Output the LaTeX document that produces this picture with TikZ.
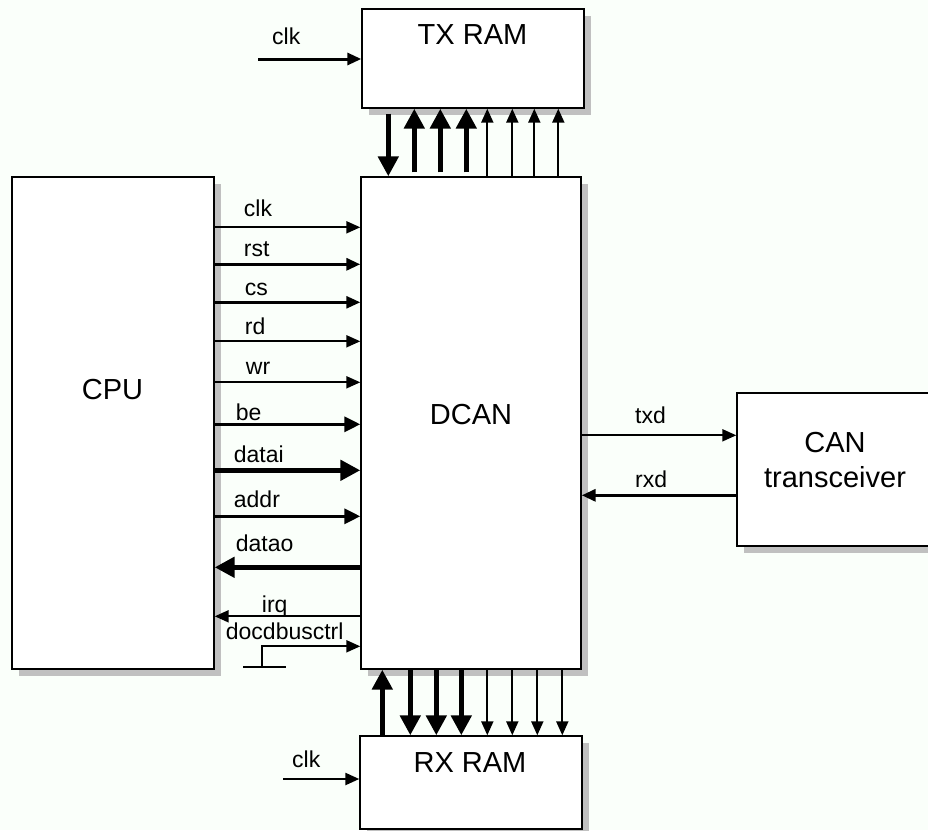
\documentclass[tikz,border=0pt]{standalone}
\usepackage{fontspec}
\setmainfont{Liberation Sans}
\usetikzlibrary{arrows.meta,shadows}
\definecolor{bgcol}{RGB}{250,255,250}
\definecolor{shadecol}{RGB}{192,192,192}

\begin{document}
\begin{tikzpicture}[
  x=1pt, y=-1pt,
  blk/.style={draw,fill=white,line width=1.4pt,inner sep=0pt,
              drop shadow={shadow xshift=7pt,shadow yshift=-7pt,fill=shadecol,opacity=1}},
  txt/.style={font=\fontsize{29}{35}\selectfont,inner sep=0pt,align=center},
  lbl/.style={font=\fontsize{23}{27}\selectfont,inner sep=0pt,anchor=base west},
  sigthin/.style={line width=2pt,-{Triangle[length=14pt,width=12pt]}},
  sigmid/.style={line width=3.2pt,-{Triangle[length=16pt,width=15pt]}},
  sigbus/.style={line width=5.5pt,-{Triangle[length=20pt,width=20pt]}}
]
\clip (0,0) rectangle (928,830);
\fill[bgcol] (0,0) rectangle (928,830);

\node[blk,minimum width=202pt,minimum height=492pt] (cpu)   at (113,423) {};
\node[blk,minimum width=220pt,minimum height=492pt] (dcan)  at (471,423) {};
\node[blk,minimum width=222pt,minimum height=99pt]  (txram) at (473,58.5) {};
\node[blk,minimum width=222pt,minimum height=93pt]  (rxram) at (471,782.5) {};
\node[blk,minimum width=198pt,minimum height=153pt] (can)   at (836,469.5) {};

\node[txt,anchor=base] (cputxt)  at (112.5,399) {CPU};
\node[txt,anchor=base] (dcantxt) at (471,424)   {DCAN};
\node[txt,anchor=base] (txtxt)   at (472.5,44)  {TX RAM};
\node[txt,anchor=base] (rxtxt)   at (470,772)   {RX RAM};
\node[txt]             (cantxt)  at (835,460)   {CAN\\transceiver};

% CPU -> DCAN
\foreach \d/\lab/\sty/\lw/\lx/\ly in {51/clk/sigthin/2/29/11, 88/rst/sigthin/3.2/29/8,
    126/cs/sigthin/2.6/30/7, 165/rd/sigthin/2/30/7, 206/wr/sigthin/2/31/8,
    248/be/sigmid/3.2/21/4, 294/datai/sigbus/5.5/19/8, 340/addr/sigmid/3.2/19/9}{
  \draw[\sty,line width=\lw pt] ([yshift=-\d pt]cpu.north east) -- ([yshift=-\d pt]dcan.north west);
  \node[lbl] (l-\lab) at ([xshift=\lx pt,yshift={\ly pt-\d pt}]cpu.north east) {\lab};
}

% DCAN -> CPU
\draw[sigbus] ([yshift=-391pt]dcan.north west) -- ([yshift=-391pt]cpu.north east);
\node[lbl] (l-datao) at ([xshift=21pt,yshift=-375pt]cpu.north east) {datao};
\draw[sigthin] ([yshift=-440pt]dcan.north west) -- ([yshift=-440pt]cpu.north east);
\node[lbl] (l-irq) at ([xshift=47pt,yshift=-436pt]cpu.north east) {irq};

\coordinate (gnd) at (262,667);
\draw[sigthin] (gnd) |- ([yshift=-470pt]dcan.north west);
\draw[line width=1.4pt] ([xshift=-19pt]gnd) -- ([xshift=24pt]gnd);
\node[lbl] (l-docdbusctrl) at ([xshift=11pt,yshift=-463pt]cpu.north east) {docdbusctrl};

% TX RAM <-> DCAN
\draw[sigbus,shorten <=5pt] ([xshift=28pt]dcan.north west |- txram.south) -- ([xshift=28pt]dcan.north west);
\foreach \x in {54,80,106}
  \draw[sigbus,shorten <=4pt] ([xshift=\x pt]dcan.north west) -- ([xshift=\x pt]dcan.north west |- txram.south);
\foreach \x in {127,152,174,198}
  \draw[sigthin] ([xshift=\x pt]dcan.north west) -- ([xshift=\x pt]dcan.north west |- txram.south);

% DCAN <-> RX RAM
\draw[sigbus] ([xshift=22pt]dcan.south west |- rxram.north) -- ([xshift=22pt]dcan.south west);
\foreach \x in {50,76,101}
  \draw[sigbus] ([xshift=\x pt]dcan.south west) -- ([xshift=\x pt]dcan.south west |- rxram.north);
\foreach \x in {127,152,177,202}
  \draw[sigthin] ([xshift=\x pt]dcan.south west) -- ([xshift=\x pt]dcan.south west |- rxram.north);

% clocks
\coordinate (txclk) at (258,59);
\draw[sigthin,line width=3pt] (txclk) -- (txclk -| txram.west);
\node[lbl] (l-txclk) at (272,44) {clk};
\coordinate (rxclk) at (283,779);
\draw[sigthin,line width=2.4pt] (rxclk) -- (rxclk -| rxram.west);
\node[lbl] (l-rxclk) at (292,767) {clk};

% DCAN <-> CAN transceiver
\draw[sigthin] ([yshift=-259pt]dcan.north east) -- ([yshift=-259pt]dcan.north east -| can.west);
\node[lbl] (l-txd) at (635,423) {txd};
\draw[sigthin,line width=3.2pt] ([yshift=-319pt]dcan.north east -| can.west) -- ([yshift=-319pt]dcan.north east);
\node[lbl] (l-rxd) at (635,487) {rxd};
\end{tikzpicture}
\end{document}
